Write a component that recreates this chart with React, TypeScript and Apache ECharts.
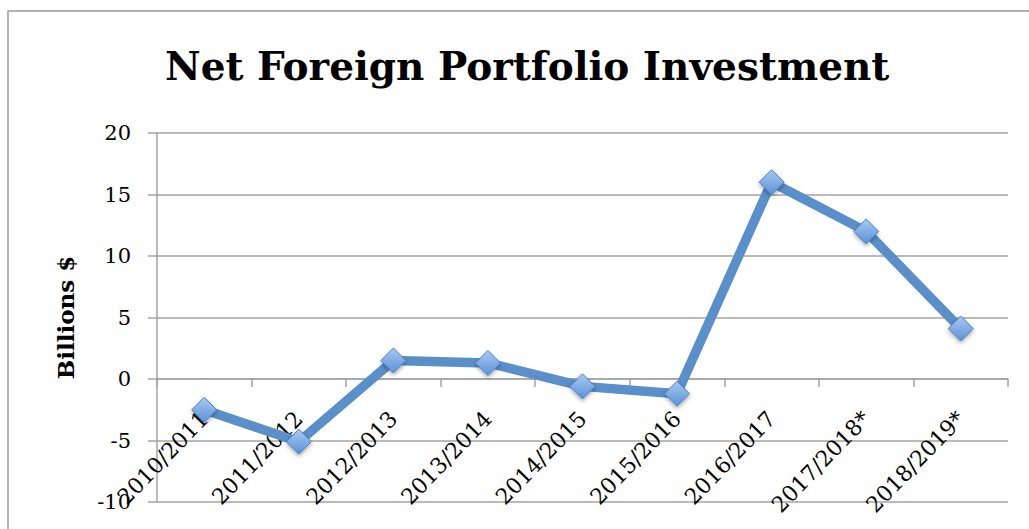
import React, { useEffect, useRef } from "react";
import * as echarts from "echarts";

const categories = [
  "2010/2011",
  "2011/2012",
  "2012/2013",
  "2013/2014",
  "2014/2015",
  "2015/2016",
  "2016/2017",
  "2017/2018*",
  "2018/2019*",
];
const values = [-2.5, -5.1, 1.5, 1.3, -0.6, -1.2, 16.0, 12.0, 4.1];
const yTicks = { min: -10, max: 20, interval: 5 };
const titleText = "Net Foreign Portfolio Investment";
const yName = "Billions $";

export default function App() {
  const ref = useRef<HTMLDivElement>(null);
  useEffect(() => {
    document.body.style.margin = "0";
    const chart = echarts.init(ref.current!, null, { renderer: "svg" });
    const gray = "#a3a3a3";
    chart.setOption({
      animation: false,
      backgroundColor: "#ffffff",
      title: {
        text: titleText,
        left: 160,
        top: 41,
        textStyle: {
          fontFamily: "DejaVu Serif",
          fontWeight: "bold",
          fontSize: 39,
          color: "#000",
        },
      },
      graphic: [
        {
          type: "rect",
          shape: { x: 8, y: 11, width: 1040, height: 540 },
          style: { fill: "none", stroke: "#9c9c9c", lineWidth: 1.5 },
          silent: true,
        },
      ],
      grid: {
        left: 157,
        right: 21,
        top: 133,
        bottom: 27,
        containLabel: false,
        outerBoundsMode: "none",
      },
      xAxis: {
        type: "category",
        data: categories,
        boundaryGap: true,
        axisLine: { onZero: true, lineStyle: { color: gray, width: 1.5 } },
        axisTick: { show: true, length: 8, alignWithLabel: false, lineStyle: { color: gray, width: 1.5 } },
        axisLabel: {
          interval: 0,
          rotate: 46,
          margin: -87,
          fontFamily: "DejaVu Serif",
          fontSize: 22,
          color: "#000",
        },
        splitLine: { show: false },
      },
      yAxis: {
        type: "value",
        min: yTicks.min,
        max: yTicks.max,
        interval: yTicks.interval,
        name: yName,
        nameLocation: "middle",
        nameRotate: 90,
        nameGap: 80,
        nameTextStyle: {
          fontFamily: "DejaVu Serif",
          fontWeight: "bold",
          fontSize: 23,
          color: "#000",
        },
        axisLine: { show: true, lineStyle: { color: gray, width: 1.5 } },
        axisTick: { show: true, length: 9, lineStyle: { color: gray, width: 1.5 } },
        axisLabel: {
          margin: 26,
          fontFamily: "DejaVu Serif",
          fontSize: 21,
          color: "#000",
        },
        splitLine: { show: true, lineStyle: { color: gray, width: 1.5 } },
      },
      series: [
        {
          type: "line",
          data: values,
          symbol: "diamond",
          symbolSize: 25,
          lineStyle: { color: "#5a8fc9", width: 9.5 },
          itemStyle: {
            color: new echarts.graphic.LinearGradient(0, 0, 0, 1, [
              { offset: 0, color: "#a9c9f2" },
              { offset: 1, color: "#5b91d8" },
            ]),
            borderColor: "#4f82c0",
            borderWidth: 1,
            shadowBlur: 4,
            shadowOffsetY: 2,
            shadowColor: "rgba(0,0,0,0.35)",
          },
          z: 3,
        },
      ],
    });
    return () => chart.dispose();
  }, []);
  return <div ref={ref} style={{ width: 1029, height: 529 }} />;
}
